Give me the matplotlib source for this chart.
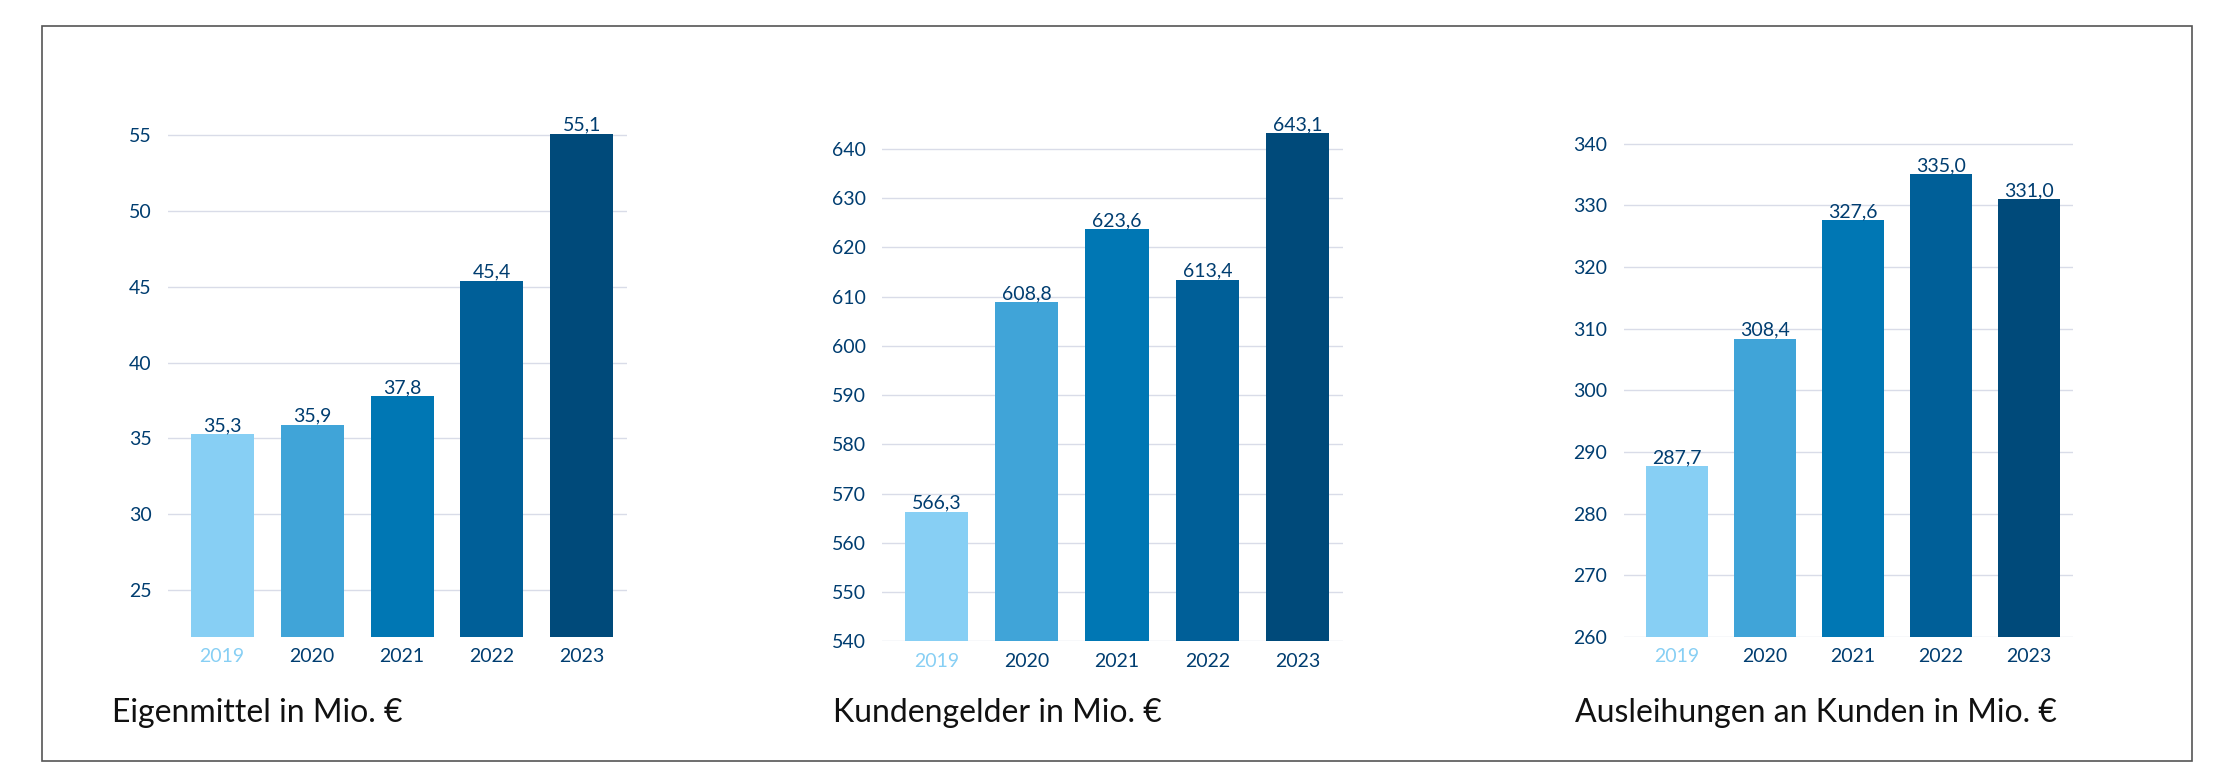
import matplotlib.pyplot as plt
from matplotlib.patches import Rectangle

years = ['2019', '2020', '2021', '2022', '2023']
eigenmittel = [35.3, 35.9, 37.8, 45.4, 55.1]
kundengelder = [566.3, 608.8, 623.6, 613.4, 643.1]
ausleihungen = [287.7, 308.4, 327.6, 335.0, 331.0]

colors = ['#87cff4', '#40a4d8', '#0077b4', '#005f98', '#004a7a']
navy = '#003d70'

plt.rcParams['font.family'] = ['Lato', 'DejaVu Sans']

fig = plt.figure(figsize=(22.34, 7.84), dpi=100)
fig.patches.append(Rectangle((0.019, 0.029), 0.962, 0.938, transform=fig.transFigure,
                             fill=False, edgecolor='#555555', lw=1.2))

panels = [
    (eigenmittel, [0.0753, 0.1873, 0.2053, 0.650], (21.9, 55.5), range(25, 56, 5), 'Eigenmittel in Mio. €'),
    (kundengelder, [0.395, 0.1818, 0.206, 0.660], (540, 645), range(540, 641, 10), 'Kundengelder in Mio. €'),
    (ausleihungen, [0.727, 0.1873, 0.201, 0.669], (260, 345), range(260, 341, 10), 'Ausleihungen an Kunden in Mio. €'),
]

for vals, rect, ylim, ticks, title in panels:
    ax = fig.add_axes(rect)
    x = range(len(years))
    ax.bar(x, [v - ylim[0] for v in vals], bottom=ylim[0], width=0.7, color=colors, zorder=2)
    for i, v in enumerate(vals):
        ax.text(i, v, f'{v:.1f}'.replace('.', ','), ha='center', va='bottom',
                fontsize=14, color=navy, clip_on=False)
    ax.set_ylim(*ylim)
    ax.set_xlim(-0.6, 4.5)
    ax.set_yticks(list(ticks))
    ax.yaxis.grid(True, color='#d9dce8', lw=1, zorder=0)
    ax.set_xticks(list(x))
    ax.set_xticklabels(years, fontsize=14)
    for lbl, c in zip(ax.get_xticklabels(), colors):
        lbl.set_color(c if c != colors[0] else colors[0])
    for lbl in ax.get_xticklabels()[1:]:
        lbl.set_color(navy)
    ax.get_xticklabels()[0].set_color(colors[0])
    ax.tick_params(axis='y', labelsize=14, labelcolor=navy, length=0, pad=12)
    ax.tick_params(axis='x', length=0, pad=8)
    for s in ax.spines.values():
        s.set_visible(False)
    ax.text(rect[0] - 0.025 if rect[0] < 0.1 else rect[0] - 0.022, 0.09, title,
            transform=fig.transFigure, fontsize=23, color='#111111', va='center')

fig.savefig('out.png', dpi=100)
